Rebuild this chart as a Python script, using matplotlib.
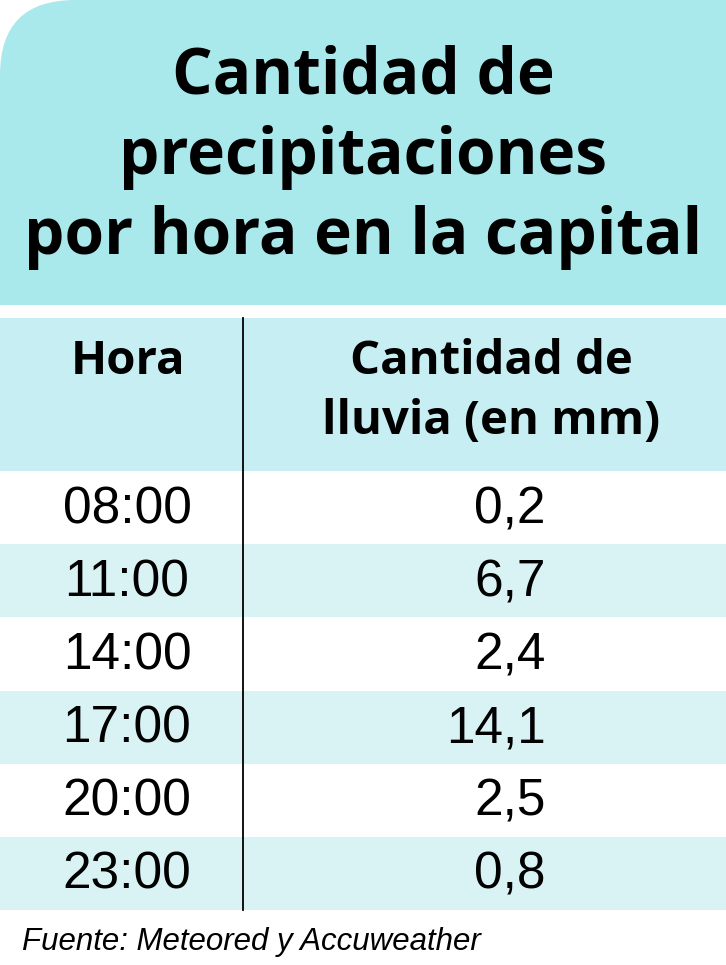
import matplotlib
matplotlib.use("Agg")
from matplotlib import pyplot as plt
from matplotlib.patches import FancyBboxPatch, Rectangle

title_lines = ["Cantidad de", "precipitaciones", "por hora en la capital"]
header_left = "Hora"
header_right = ["Cantidad de", "lluvia (en mm)"]
hours = ["08:00", "11:00", "14:00", "17:00", "20:00", "23:00"]
rain_mm = [0.2, 6.7, 2.4, 14.1, 2.5, 0.8]
source = "Fuente: Meteored y Accuweather"

bold_font = "Open Sans"
plain_font = "Liberation Sans"

W, H = 726, 965
fig = plt.figure(figsize=(W / 100, H / 100), dpi=100)
ax = fig.add_axes([0, 0, 1, 1])
ax.set_xlim(0, W)
ax.set_ylim(H, 0)
ax.axis("off")

# title panel, rounded only at top-left
title_bot = 305
ax.add_patch(FancyBboxPatch((0, 0), W + 100, title_bot, boxstyle="round,pad=0,rounding_size=75",
                            facecolor="#a9e9ec", edgecolor="none"))
ax.add_patch(Rectangle((0, title_bot - 90), 120, 90, facecolor="#a9e9ec", edgecolor="none"))
for i, line in enumerate(title_lines):
    ax.text(W / 2, 77 + i * 80, line, ha="center", va="center", fontsize=46,
            fontweight="bold", family=bold_font, color="black")

# header band
head_top, head_bot = 318, 471
ax.add_patch(Rectangle((0, head_top), W, head_bot - head_top, facecolor="#c6eef3", edgecolor="none"))
ax.text(128, 362, header_left, ha="center", va="center", fontsize=34, fontweight="bold",
        family=bold_font)
for i, line in enumerate(header_right):
    ax.text(491, 362 + i * 60, line, ha="center", va="center", fontsize=34, fontweight="bold",
            family=bold_font)

# rows
row_h = (910 - head_bot) / len(hours)
for i, (hr, val) in enumerate(zip(hours, rain_mm)):
    top = head_bot + i * row_h
    color = "white" if i % 2 == 0 else "#d9f2f4"
    ax.add_patch(Rectangle((0, top), W, row_h, facecolor=color, edgecolor="none"))
    yc = top + row_h / 2 + 2
    ax.text(127, yc, hr, ha="center", va="center", fontsize=37, family=plain_font)
    ax.text(546, yc, f"{val:.1f}".replace(".", ","), ha="right", va="center", fontsize=37,
            family=plain_font)

ax.plot([243, 243], [head_top, 910], color="black", lw=1.3)

ax.text(22, 942, source, ha="left", va="center", fontsize=22.5, style="italic", family=plain_font)

fig.savefig("out.png", dpi=100)
